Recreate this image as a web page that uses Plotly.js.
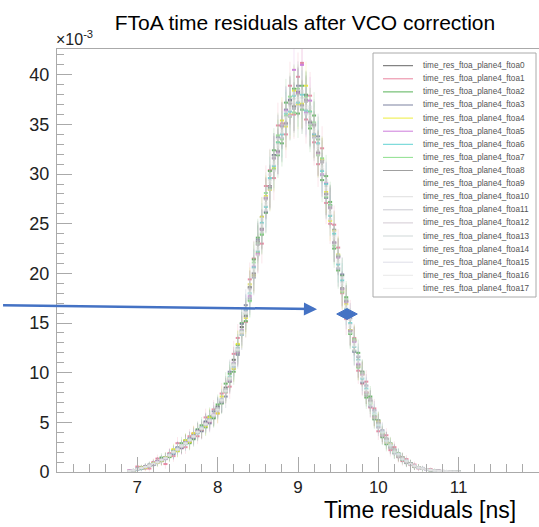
<!DOCTYPE html>
<html>
<head>
<meta charset="utf-8">
<script src="https://cdn.plot.ly/plotly-3.0.1.min.js"></script>
<style>html,body{margin:0;padding:0;background:#fff;}#chart{width:539px;height:527px;}</style>
</head>
<body>
<div id="chart"></div>
<script>
// Bin centres of the time-residual histogram [ns]
var binCenters = [
6.90,6.95,7.00,7.05,7.10,7.15,7.20,7.25,7.30,7.35,
7.40,7.45,7.50,7.55,7.60,7.65,7.70,7.75,7.80,7.85,
7.90,7.95,8.00,8.05,8.10,8.15,8.20,8.25,8.30,8.35,
8.40,8.45,8.50,8.55,8.60,8.65,8.70,8.75,8.80,8.85,
8.90,8.95,9.00,9.05,9.10,9.15,9.20,9.25,9.30,9.35,
9.40,9.45,9.50,9.55,9.60,9.65,9.70,9.75,9.80,9.85,
9.90,9.95,10.00,10.05,10.10,10.15,10.20,10.25,10.30,10.35,
10.40,10.45,10.50,10.55,10.60,10.65,10.70,10.75,10.80,10.85,
10.90,10.95,11.00];

// X tick labels shown on the axis
var xTickVals = [7,8,9,10,11];

// Statistical error per bin (units of 1e-3)
var errBase = [
0.13,0.15,0.22,0.25,0.28,0.32,0.36,0.4,0.44,0.47,
0.52,0.57,0.61,0.64,0.68,0.72,0.76,0.8,0.84,0.88,
0.91,0.95,1.0,1.07,1.15,1.23,1.31,1.4,1.5,1.6,
1.7,1.8,1.9,2.0,2.08,2.16,2.23,2.29,2.34,2.39,
2.42,2.44,2.45,2.45,2.43,2.39,2.35,2.29,2.22,2.14,
2.04,1.94,1.84,1.74,1.63,1.53,1.43,1.33,1.24,1.15,
1.06,0.96,0.88,0.79,0.72,0.64,0.58,0.52,0.46,0.41,
0.36,0.31,0.27,0.24,0.21,0.18,0.15,0.14,0.13,0.11,
0.1,0.09,0.08];

// Series values (units of 1e-3)
var ftoa0 = [0.1,0.2,0.3,0.4,0.6,0.6,0.9,1.1,1.1,1.5,
1.6,2.1,2.4,2.5,3.1,3.0,3.8,4.1,4.2,5.0,
5.4,5.5,6.6,7.0,8.5,9.1,11.3,12.0,14.6,15.7,
18.6,20.0,23.2,24.5,27.6,28.8,31.9,32.3,34.9,35.1,
37.4,36.8,38.3,37.0,37.5,35.2,35.0,32.1,31.4,28.0,
26.8,23.1,21.7,18.5,17.2,14.3,13.2,10.8,9.9,8.0,
7.2,5.6,5.0,3.8,3.3,2.5,2.2,1.6,1.4,1.0,
0.85,0.55,0.5,0.3,0.3,0.2,0.15,0.1,0.1,0.1,
0.05,0.05,0.05];
var ftoa1 = [0.15,0.05,0.55,0.45,0.35,0.35,1.0,1.35,1.1,0.8,
1.9,1.6,2.9,2.4,2.5,3.6,3.9,3.6,4.2,5.5,
5.0,6.3,5.9,7.9,8.0,8.6,11.9,13.5,13.8,15.1,
19.4,21.5,21.9,23.0,28.8,30.4,29.6,34.9,35.1,34.0,
38.9,36.0,39.8,41.2,35.5,37.9,33.2,31.0,32.6,27.1,
25.0,24.9,22.6,18.0,15.4,15.8,13.5,10.2,8.9,9.1,
6.5,6.4,4.1,3.6,3.7,2.2,2.5,1.5,1.1,1.3,
0.7,0.75,0.35,0.4,0.2,0.3,0.1,0.15,0.1,0.05,
0.1,0.05,0.05];
var ftoa2 = [0.05,0.2,0.25,0.5,0.55,0.6,0.7,1.05,1.45,1.3,
1.5,2.2,2.1,2.9,3.2,2.9,3.3,4.3,4.7,4.5,
5.6,5.4,6.8,6.9,8.9,9.9,10.1,12.8,15.0,15.2,
17.3,21.4,23.6,23.9,26.1,30.3,32.4,31.9,33.1,37.2,
35.8,38.6,36.1,38.9,38.0,34.6,35.9,33.5,29.4,29.8,
27.2,22.5,20.3,19.8,17.6,13.9,12.2,12.0,10.1,7.5,
7.6,5.3,5.2,3.5,2.8,2.9,1.9,1.9,1.2,0.95,
0.9,0.5,0.5,0.3,0.3,0.15,0.2,0.1,0.05,0.1,
0.05,0.05,0.05];
var ftoa3 = [0.1,0.15,0.35,0.3,0.5,0.75,0.7,0.95,1.3,1.5,
1.8,1.8,2.5,2.4,3.1,3.4,3.4,4.2,4.1,5.1,
4.9,6.1,6.5,7.0,7.6,10.1,10.4,11.8,14.9,16.8,
17.5,19.6,23.4,25.7,26.2,28.5,31.9,33.7,33.6,36.5,
37.5,36.6,38.9,36.5,37.9,35.1,33.7,33.8,29.9,27.6,
26.9,24.4,20.5,19.9,16.0,15.5,12.1,11.6,9.0,8.7,
6.6,6.2,4.5,4.2,3.0,2.8,1.9,1.8,1.5,0.9,
0.85,0.55,0.5,0.3,0.3,0.2,0.1,0.15,0.05,0.1,
0.05,0.0,0.05];
var ftoa4 = [0.1,0.1,0.3,0.45,0.4,0.7,0.9,0.9,1.1,1.5,
1.6,2.3,2.1,2.6,3.2,3.0,3.9,4.0,4.3,4.6,
5.5,5.6,5.9,7.6,8.1,9.5,10.4,12.9,14.0,15.5,
18.9,19.8,22.1,25.7,27.8,28.4,30.6,33.2,35.4,34.8,
36.0,38.4,37.0,37.1,38.9,36.3,33.9,32.0,31.5,28.2,
25.3,24.3,21.9,18.2,16.9,14.3,13.3,10.6,9.8,8.0,
6.9,5.5,5.1,3.9,3.0,2.8,2.0,1.6,1.45,1.0,
0.8,0.55,0.5,0.3,0.3,0.2,0.15,0.1,0.1,0.1,
0.05,0.05,0.05];
var ftoa5 = [0.15,0.2,0.25,0.4,0.55,0.6,0.75,1.1,1.2,1.3,
1.8,1.9,2.4,2.5,3.0,3.3,3.5,4.1,4.3,4.9,
5.1,5.8,6.4,7.1,8.3,9.2,11.0,12.1,14.3,16.3,
17.7,20.7,22.0,24.4,27.6,28.7,31.6,32.2,34.9,36.4,
35.9,40.5,38.2,41.0,36.2,37.4,34.0,32.1,30.0,29.1,
26.6,23.1,21.6,18.4,17.1,14.2,13.1,10.9,9.8,8.0,
7.1,5.6,4.9,3.8,3.3,2.5,2.2,1.6,1.4,1.0,
0.8,0.6,0.4,0.35,0.25,0.2,0.15,0.1,0.1,0.05,
0.05,0.05,0.05];
var ftoa6 = [0.1,0.15,0.25,0.35,0.5,0.7,0.8,1.0,1.2,1.4,
1.7,1.9,2.4,2.6,2.8,3.3,3.6,3.9,4.5,4.8,
5.3,5.6,6.3,7.3,8.1,9.6,10.6,12.5,13.8,16.3,
18.0,20.6,22.2,25.1,26.7,29.6,30.8,33.2,34.0,36.1,
36.3,37.9,37.2,38.0,36.4,36.3,34.0,33.1,30.3,29.0,
25.8,24.0,20.9,19.3,16.4,15.0,12.6,11.3,9.4,8.4,
6.9,5.9,4.7,4.0,3.1,2.7,2.0,1.8,1.3,1.1,
0.8,0.6,0.45,0.35,0.25,0.2,0.15,0.1,0.1,0.1,
0.05,0.05,0.05];
var ftoa7 = [0.1,0.1,0.3,0.35,0.5,0.6,0.85,1.0,1.15,1.45,
1.75,2.0,2.3,2.55,2.95,3.25,3.55,4.05,4.35,4.85,
5.3,5.6,6.4,7.1,8.3,9.3,10.9,12.2,14.2,15.9,
17.2,21.1,23.0,24.0,28.1,28.6,30.5,33.9,33.5,35.9,
37.8,36.2,38.6,36.5,37.8,34.9,35.2,31.9,31.6,27.7,
26.9,22.8,21.8,18.1,17.4,14.0,13.4,10.5,10.0,7.8,
7.1,5.7,4.9,3.8,3.3,2.5,2.2,1.6,1.4,1.0,
0.8,0.6,0.45,0.35,0.3,0.2,0.15,0.1,0.1,0.05,
0.05,0.05,0.05];
var ftoa8 = [0.1,0.15,0.3,0.4,0.5,0.65,0.8,1.0,1.2,1.4,
1.65,2.05,2.35,2.55,2.85,3.25,3.65,3.95,4.45,4.75,
5.25,5.65,6.35,7.15,8.25,9.35,10.85,12.25,14.15,15.95,
18.6,19.8,22.9,24.4,27.5,28.7,31.6,32.3,34.8,35.1,
37.1,36.8,38.1,36.9,37.3,35.3,34.9,32.2,31.2,28.0,
26.6,23.1,21.7,18.4,17.2,14.2,13.3,10.6,10.1,7.7,
7.4,5.4,5.2,3.6,3.4,2.4,2.3,1.5,1.5,0.9,
0.9,0.5,0.5,0.3,0.3,0.15,0.2,0.1,0.1,0.05,
0.1,0.05,0.05];
var ftoa9 = [0.1,0.2,0.3,0.35,0.55,0.6,0.85,0.95,1.25,1.35,
1.75,1.95,2.35,2.55,2.95,3.15,3.65,3.95,4.45,4.75,
5.25,5.75,6.25,7.25,8.15,9.45,10.75,12.35,14.05,16.05,
18.0,20.4,22.4,24.9,26.9,29.3,31.0,32.9,34.2,35.7,
36.5,37.4,37.5,37.5,36.7,35.9,34.3,32.8,30.6,28.6,
26.0,23.7,21.1,19.0,16.6,14.8,12.7,11.2,9.5,8.3,
6.9,5.9,4.7,4.0,3.1,2.7,2.0,1.8,1.3,1.1,
0.8,0.6,0.45,0.35,0.25,0.2,0.15,0.1,0.1,0.1,
0.05,0.05,0.05];
var ftoa10 = [0.05,0.15,0.3,0.45,0.45,0.7,0.75,1.05,1.15,1.45,
1.6,2.1,2.2,2.7,2.8,3.3,3.5,4.1,4.3,4.9,
5.1,5.8,6.2,7.3,8.0,9.6,10.5,12.6,13.8,16.4,
17.6,20.8,21.8,25.4,26.3,29.9,30.4,33.5,33.6,36.2,
35.8,38.0,36.9,38.2,36.0,36.6,33.7,33.4,30.0,29.2,
25.5,24.2,20.6,19.5,16.1,15.3,12.3,11.6,9.2,8.6,
6.7,6.1,4.5,4.1,3.0,2.8,1.9,1.8,1.25,1.15,
0.75,0.65,0.4,0.4,0.25,0.25,0.1,0.15,0.05,0.1,
0.05,0.05,0.0];
var ftoa11 = [0.15,0.1,0.35,0.35,0.55,0.6,0.85,0.95,1.25,1.35,
1.8,1.9,2.4,2.5,3.0,3.1,3.7,3.9,4.5,4.7,
5.3,5.6,6.5,7.0,8.4,9.2,11.0,12.0,14.4,15.6,
18.5,19.8,23.0,24.2,27.5,28.5,31.7,32.1,34.9,35.0,
37.2,36.7,38.4,36.8,37.5,35.1,35.0,32.0,31.3,27.9,
26.7,23.0,21.8,18.3,17.3,14.1,13.2,10.7,9.9,7.9,
7.2,5.5,5.0,3.7,3.3,2.4,2.2,1.6,1.4,1.0,
0.85,0.55,0.5,0.3,0.3,0.15,0.2,0.1,0.15,0.05,
0.1,0.05,0.05];
var ftoa12 = [0.1,0.2,0.25,0.45,0.5,0.7,0.75,1.05,1.2,1.4,
1.7,2.0,2.2,2.7,2.9,3.2,3.6,4.0,4.3,4.9,
5.2,5.7,6.1,7.4,8.1,9.4,10.6,12.5,13.9,16.2,
18.4,20.0,22.9,24.5,27.4,28.8,31.5,32.4,34.7,35.2,
36.9,37.1,38.0,37.0,37.3,35.4,34.8,32.3,31.1,28.1,
26.5,23.2,21.6,18.5,17.1,14.3,13.1,10.8,9.8,8.0,
7.1,5.6,4.9,3.8,3.3,2.5,2.2,1.6,1.4,1.0,
0.8,0.55,0.45,0.3,0.3,0.2,0.15,0.1,0.1,0.05,
0.05,0.05,0.05];
var ftoa13 = [0.1,0.15,0.35,0.35,0.5,0.6,0.85,0.95,1.25,1.4,
1.65,2.05,2.25,2.65,2.85,3.25,3.55,4.05,4.35,4.85,
5.15,5.75,6.25,7.25,8.15,9.45,10.7,12.4,14.0,16.1,
17.9,20.5,22.3,25.0,26.8,29.4,30.9,33.0,34.1,35.8,
36.4,37.6,37.3,37.7,36.5,36.1,34.1,33.0,30.5,28.8,
25.9,23.8,21.0,19.1,16.5,14.9,12.6,11.3,9.5,8.3,
6.9,5.9,4.7,4.0,3.1,2.7,2.0,1.8,1.3,1.1,
0.8,0.6,0.45,0.35,0.25,0.2,0.15,0.1,0.1,0.1,
0.05,0.05,0.05];
var ftoa14 = [0.1,0.1,0.3,0.4,0.5,0.7,0.8,1.0,1.2,1.45,
1.7,2.0,2.3,2.6,2.9,3.2,3.6,4.0,4.4,4.8,
5.2,5.7,6.3,7.2,8.2,9.4,10.8,12.3,14.1,16.0,
18.9,19.6,23.2,24.1,27.7,28.4,31.8,32.0,35.0,34.9,
37.3,36.6,38.5,36.7,37.6,35.0,35.1,31.9,31.4,27.8,
26.8,22.9,21.9,18.2,17.4,14.0,13.3,10.6,10.0,7.8,
7.3,5.4,5.1,3.6,3.4,2.4,2.3,1.5,1.5,0.9,
0.9,0.5,0.5,0.3,0.3,0.15,0.2,0.1,0.1,0.05,
0.1,0.05,0.05];
var ftoa15 = [0.1,0.15,0.3,0.4,0.5,0.65,0.8,1.0,1.2,1.4,
1.75,1.95,2.35,2.55,2.95,3.15,3.65,3.95,4.45,4.75,
5.3,5.6,6.4,7.1,8.3,9.3,10.9,12.2,14.2,15.9,
17.4,21.0,21.9,25.6,26.4,30.0,30.3,33.6,33.7,36.3,
35.9,38.2,36.8,38.4,36.1,36.8,33.6,33.6,29.8,29.4,
25.4,24.3,20.5,19.6,16.0,15.4,12.2,11.7,9.1,8.7,
6.6,6.2,4.4,4.2,2.9,2.9,1.8,1.9,1.2,1.2,
0.7,0.7,0.35,0.45,0.2,0.25,0.1,0.15,0.05,0.1,
0.0,0.05,0.05];
var ftoa16 = [0.1,0.15,0.3,0.4,0.5,0.65,0.8,1.0,1.2,1.4,
1.7,2.0,2.3,2.6,2.9,3.2,3.6,4.0,4.4,4.8,
5.2,5.7,6.3,7.2,8.2,9.4,10.8,12.3,14.1,16.0,
18.2,20.2,22.6,24.7,27.1,29.1,31.2,32.7,34.4,35.5,
36.7,37.2,37.7,37.3,36.9,35.7,34.5,32.6,30.8,28.4,
26.2,23.5,21.3,18.8,16.8,14.6,12.9,11.0,9.7,8.1,
7.0,5.8,4.8,3.9,3.2,2.6,2.1,1.7,1.35,1.05,
0.8,0.6,0.45,0.35,0.27,0.2,0.15,0.12,0.1,0.08,
0.06,0.05,0.04];
var ftoa17 = [0.1,0.2,0.25,0.4,0.55,0.6,0.85,0.95,1.25,1.35,
1.65,2.05,2.25,2.65,2.85,3.25,3.55,4.05,4.35,4.85,
5.15,5.75,6.25,7.25,8.15,9.45,10.75,12.35,14.05,16.05,
18.0,20.4,22.4,24.9,26.9,29.3,31.0,32.9,34.2,35.7,
36.5,37.4,37.5,37.5,36.7,35.9,34.3,32.8,30.6,28.6,
26.0,23.7,21.1,19.0,16.6,14.8,12.7,11.2,9.5,8.3,
6.9,5.9,4.7,4.0,3.1,2.7,2.0,1.8,1.3,1.1,
0.8,0.6,0.45,0.35,0.25,0.2,0.15,0.1,0.1,0.1,
0.05,0.05,0.05];

var seriesNames = ["time_res_ftoa_plane4_ftoa0","time_res_ftoa_plane4_ftoa1","time_res_ftoa_plane4_ftoa2",
"time_res_ftoa_plane4_ftoa3","time_res_ftoa_plane4_ftoa4","time_res_ftoa_plane4_ftoa5",
"time_res_ftoa_plane4_ftoa6","time_res_ftoa_plane4_ftoa7","time_res_ftoa_plane4_ftoa8",
"time_res_ftoa_plane4_ftoa9","time_res_ftoa_plane4_ftoa10","time_res_ftoa_plane4_ftoa11",
"time_res_ftoa_plane4_ftoa12","time_res_ftoa_plane4_ftoa13","time_res_ftoa_plane4_ftoa14",
"time_res_ftoa_plane4_ftoa15","time_res_ftoa_plane4_ftoa16","time_res_ftoa_plane4_ftoa17"];
var seriesValues = [ftoa0,ftoa1,ftoa2,ftoa3,ftoa4,ftoa5,ftoa6,ftoa7,ftoa8,ftoa9,
ftoa10,ftoa11,ftoa12,ftoa13,ftoa14,ftoa15,ftoa16,ftoa17];
var seriesRGB = [[85,85,85],[232,120,150],[70,170,70],[110,115,150],[235,235,40],[200,110,215],
[80,205,205],[130,220,130],[150,150,150],[255,255,255],[215,215,215],[190,190,198],
[200,190,200],[195,205,205],[205,205,205],[215,215,228],[228,228,228],[236,236,236]];
var barAlpha = [0.85,0.85,0.8,0.8,0.9,0.85,0.8,0.8,0.7,0.0,0.5,0.5,0.5,0.5,0.5,0.5,0.5,0.5];

function rgba(c,a){return 'rgba('+c[0]+','+c[1]+','+c[2]+','+a+')';}

var traces = seriesValues.map(function(vals,i){
  return {
    type:'scatter', mode:'markers', name: seriesNames[i], showlegend:false,
    x: binCenters, y: vals,
    marker:{size:1, color:'rgba(0,0,0,0)'},
    error_x:{type:'constant', value:0.025, width:0, thickness:2, color: rgba(seriesRGB[i],barAlpha[i])},
    error_y:{type:'data', array: errBase, width:0, thickness:1, color: rgba(seriesRGB[i],barAlpha[i]*0.22)},
    hoverinfo:'skip'
  };
});

// plot-area geometry in pixels (for legend/decoration placement)
var L=57, R=0, T=49, B=55, W=539, H=527;
var pw=W-L-R, ph=H-T-B;
function px2x(p){return (p-L)/pw;}
function py2y(p){return (H-B-p)/ph;}

var shapes=[], annotations=[];
// custom legend box (ROOT style)
shapes.push({type:'rect', xref:'paper', yref:'paper', x0:px2x(373), x1:px2x(536), y0:py2y(297), y1:py2y(53),
  line:{color:'#aaaaaa', width:1}, fillcolor:'#ffffff', layer:'above'});
seriesNames.forEach(function(n,i){
  var yy = py2y(65.7 + 13.1*i);
  shapes.push({type:'line', xref:'paper', yref:'paper', x0:px2x(383), x1:px2x(413), y0:yy, y1:yy,
    line:{color: rgba(seriesRGB[i], i<9?0.9:0.8), width:1}, layer:'above'});
  annotations.push({xref:'paper', yref:'paper', x:px2x(421), y:yy, xanchor:'left', yanchor:'middle',
    text:n, showarrow:false, font:{family:'Liberation Sans, Arial, sans-serif', size:8.2, color:'#555555'}});
});

// exponent label
annotations.push({xref:'paper', yref:'paper', x:px2x(54), y:py2y(38), xanchor:'left', yanchor:'middle',
  text:'×10<sup>-3</sup>', showarrow:false, font:{family:'Liberation Sans, Arial, sans-serif', size:16, color:'#222'}});
// x-axis title (right aligned ROOT style)
annotations.push({xref:'paper', yref:'paper', x:px2x(518), y:py2y(510), xanchor:'right', yanchor:'middle',
  text:'Time residuals [ns]', showarrow:false, font:{family:'Liberation Sans, Arial, sans-serif', size:23, color:'#000'}});
// blue arrow
annotations.push({xref:'x', yref:'y', x:9.237, y:16.4, ax:-317, ay:-4, axref:'pixel', ayref:'pixel',
  showarrow:true, arrowhead:2, arrowsize:1.05, arrowwidth:2.5, arrowcolor:'#4472C4', text:' '});
// blue diamond marker
shapes.push({type:'path', xref:'x', yref:'y', path:'M9.482,15.91 L9.61,16.45 L9.738,15.91 L9.61,15.37 Z',
  fillcolor:'#4472C4', line:{color:'#4472C4', width:1}, layer:'above'});

var layout = {
  width:W, height:H,
  margin:{l:L, r:R, t:T, b:B, pad:0},
  paper_bgcolor:'#ffffff', plot_bgcolor:'#ffffff',
  font:{family:'Liberation Sans, Arial, sans-serif', color:'#222'},
  title:{text:'FToA time residuals after VCO correction', xref:'container', yref:'container',
    x:305/539, xanchor:'center', y:1-23/527, yanchor:'middle',
    font:{family:'Liberation Sans, Arial, sans-serif', size:21, color:'#000'}},
  showlegend:false,
  xaxis:{range:[6,12], showgrid:false, zeroline:false, showline:true, mirror:true, linecolor:'#aaaaaa', linewidth:1,
    ticks:'inside', ticklen:15, tickcolor:'#aaaaaa', tickwidth:1, tickmode:'array', tickvals:xTickVals,
    tickfont:{size:17, color:'#222'},
    minor:{ticks:'inside', ticklen:8, dtick:0.2, tick0:0, tickcolor:'#aaaaaa', showgrid:false}},
  yaxis:{range:[0,42.6], showgrid:false, zeroline:false, showline:true, mirror:true, linecolor:'#aaaaaa', linewidth:1,
    ticks:'inside', ticklen:15, tickcolor:'#aaaaaa', tickwidth:1, dtick:5, tick0:0,
    tickfont:{size:18, color:'#222'}, ticklabelstandoff:3,
    minor:{ticks:'inside', ticklen:7, dtick:1, tick0:0, tickcolor:'#aaaaaa', showgrid:false}},
  shapes:shapes, annotations:annotations
};

Plotly.newPlot('chart', traces, layout, {displayModeBar:false, staticPlot:true});
</script>
</body>
</html>
